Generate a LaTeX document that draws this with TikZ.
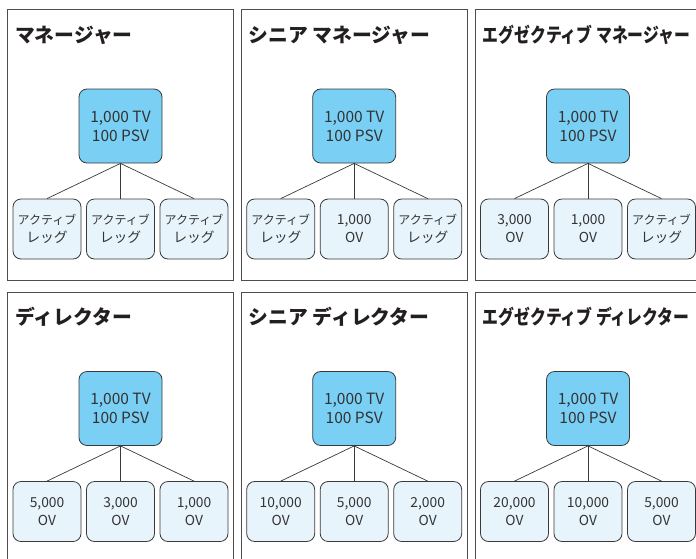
\documentclass[tikz,border=0pt]{standalone}
\usepackage{fontspec}
\usepackage{graphicx}
\setmainfont{Noto Sans CJK JP}
\definecolor{topfill}{HTML}{7ACFF4}
\definecolor{childfill}{HTML}{E7F4FC}
\definecolor{boxline}{HTML}{3A3A3A}
\definecolor{txt}{HTML}{333333}
\definecolor{ttl}{HTML}{231F20}
\definecolor{panelline}{HTML}{4D4D4D}
\tikzset{
  panelbox/.style={draw=panelline, line width=1pt, minimum width=226pt, minimum height=270.5pt, inner sep=0pt},
  titletext/.style={anchor=base west, inner sep=0pt, font=\fontsize{19.8}{22}\selectfont\bfseries, text=ttl},
  topbox/.style={draw=boxline, fill=topfill, line width=0.8pt, rounded corners=8pt, minimum width=83pt, minimum height=74pt, inner sep=0pt, align=center, font=\fontsize{15.5}{19}\selectfont, text=txt},
  childbox/.style={draw=boxline, fill=childfill, line width=0.8pt, rounded corners=8pt, minimum width=68pt, minimum height=60pt, inner sep=0pt, align=center, font=\fontsize{13.8}{18}\selectfont, text=txt},
  conn/.style={draw=boxline, line width=0.7pt}
}
\newcommand\mkpanel[8]{%
  \begin{scope}[shift={(#2,#3)}]
    \node[panelbox] (#1box) at (113,135.25) {};
    \node[titletext] (#1title) at (7.5,32.5) {#4};
    \node[topbox] (#1top) at (113,116.5) {1,000 TV\\100 PSV};
    \node[childbox] (#1a) at (39.5,219.5) {#5};
    \node[childbox] (#1b) at (113,219.5) {#6};
    \node[childbox] (#1c) at (186.5,219.5) {#7};
    \draw[conn] (#1top.south) -- (#1a.north);
    \draw[conn] (#1top.south) -- (#1b.north);
    \draw[conn] (#1top.south) -- (#1c.north);
  \end{scope}}
\newcommand\legtxt{\fontsize{12}{18}\selectfont アクティブ\\レッグ}
\begin{document}
\begin{tikzpicture}[x=1pt,y=-1pt]
  \useasboundingbox (0,0) rectangle (696,558);
  \fill[white] (0,0) rectangle (696,558);
  \mkpanel{pa}{7.5}{9.5}{マネージャー}{\legtxt}{\legtxt}{\legtxt}{}
  \mkpanel{pb}{241.2}{9.5}{シニア マネージャー}{\legtxt}{1,000\\OV}{\legtxt}{}
  \mkpanel{pc}{475}{9.5}{\scalebox{0.8}[1]{エグゼクティブ マネージャー}}{3,000\\OV}{1,000\\OV}{\legtxt}{}
  \mkpanel{pd}{7.5}{292}{ディレクター}{5,000\\OV}{3,000\\OV}{1,000\\OV}{}
  \mkpanel{pe}{241.2}{292}{シニア ディレクター}{10,000\\OV}{5,000\\OV}{2,000\\OV}{}
  \mkpanel{pf}{475}{292}{\scalebox{0.8}[1]{エグゼクティブ ディレクター}}{20,000\\OV}{10,000\\OV}{5,000\\OV}{}
\end{tikzpicture}
\end{document}
